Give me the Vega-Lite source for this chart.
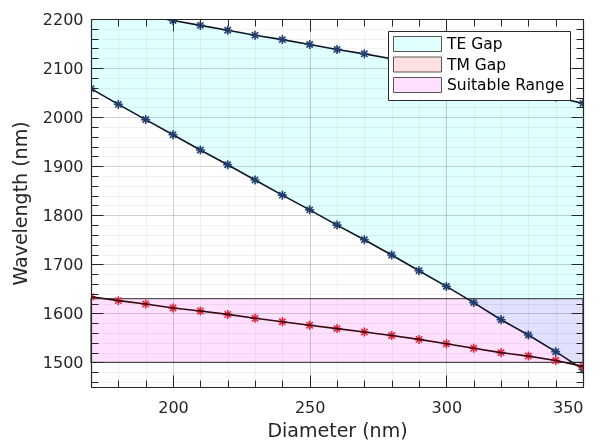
{
  "$schema": "https://vega.github.io/schema/vega-lite/v6.json",
  "width": 492,
  "height": 368,
  "autosize": {"type": "none"},
  "padding": {"left": 91, "top": 19, "right": 17, "bottom": 61},
  "background": "white",
  "config": {"view": {"stroke": null}},
  "data": {"values": [
    {"d": 170, "lo": 2058, "hi": 2227, "tm": 1634},
    {"d": 180, "lo": 2026, "hi": 2217, "tm": 1626},
    {"d": 190, "lo": 1995, "hi": 2207, "tm": 1619},
    {"d": 200, "lo": 1964, "hi": 2197, "tm": 1611},
    {"d": 210, "lo": 1933, "hi": 2187, "tm": 1605},
    {"d": 220, "lo": 1903, "hi": 2177, "tm": 1598},
    {"d": 230, "lo": 1872, "hi": 2167, "tm": 1590},
    {"d": 240, "lo": 1841, "hi": 2158, "tm": 1583},
    {"d": 250, "lo": 1811, "hi": 2148, "tm": 1576},
    {"d": 260, "lo": 1780, "hi": 2138, "tm": 1569},
    {"d": 270, "lo": 1750, "hi": 2129, "tm": 1562},
    {"d": 280, "lo": 1719, "hi": 2119, "tm": 1555},
    {"d": 290, "lo": 1687, "hi": 2106, "tm": 1547},
    {"d": 300, "lo": 1655, "hi": 2093, "tm": 1538},
    {"d": 310, "lo": 1622, "hi": 2080, "tm": 1529},
    {"d": 320, "lo": 1587, "hi": 2067, "tm": 1520},
    {"d": 330, "lo": 1556, "hi": 2054, "tm": 1513},
    {"d": 340, "lo": 1522, "hi": 2041, "tm": 1504},
    {"d": 350, "lo": 1486, "hi": 2028, "tm": 1492}
  ]},
  "resolve": {"axis": {"x": "independent", "y": "independent"}},
  "layer": [
    {
      "mark": {"type": "area", "clip": true, "opacity": 1},
      "encoding": {
        "x": {"field": "d", "type": "quantitative",
          "scale": {"domain": [170, 350], "nice": false, "zero": false},
          "axis": {"orient": "bottom", "values": [200, 250, 300, 350], "format": "d", "grid": true, "gridColor": "#262626", "gridOpacity": 0.16,
            "ticks": false, "domain": true, "domainColor": "#262626", "domainWidth": 1.2,
            "labelFont": "DejaVu Sans", "labelFontSize": 16, "labelColor": "#262626", "labelPadding": 12,
            "title": "Diameter (nm)", "titleFont": "DejaVu Sans", "titleFontSize": 19, "titleFontWeight": "normal", "titleColor": "#262626", "titlePadding": 6, "zindex": 1}},
        "y": {"field": "lo", "type": "quantitative",
          "scale": {"domain": [1450, 2200], "nice": false, "zero": false},
          "axis": {"orient": "left", "values": [1500, 1600, 1700, 1800, 1900, 2000, 2100, 2200], "format": "d", "grid": true, "gridColor": "#262626", "gridOpacity": 0.16,
            "ticks": false, "domain": true, "domainColor": "#262626", "domainWidth": 1.2,
            "labelFont": "DejaVu Sans", "labelFontSize": 16, "labelColor": "#262626", "labelPadding": 8,
            "title": "Wavelength (nm)", "titleFont": "DejaVu Sans", "titleFontSize": 19, "titleFontWeight": "normal", "titleColor": "#262626", "titlePadding": 12, "zindex": 1}},
        "y2": {"field": "hi"},
        "color": {"datum": "TE Gap", "type": "nominal",
          "scale": {"domain": ["TE Gap", "TM Gap", "Suitable Range"], "range": ["#e0ffff", "#ffe0e0", "#ffe0ff"]},
          "legend": {"orient": "none", "legendX": 297, "legendY": 12, "title": null, "zindex": 2,
            "fillColor": "white", "strokeColor": "#262626", "padding": 5, "rowPadding": 0.5,
            "symbolType": "M-1,-1H5.4V1H-1Z", "symbolSize": 225, "symbolStrokeColor": "#262626", "symbolStrokeWidth": 1, "symbolOpacity": 1,
            "labelFont": "DejaVu Sans", "labelFontSize": 15.5, "labelColor": "#000000", "labelOffset": 38, "labelLimit": 300}}
      }
    },
    {
      "data": {"values": [{"x1": 170, "x2": 350, "low": 1500, "high": 1630}]},
      "mark": {"type": "rect", "blend": "multiply", "stroke": "#555555", "strokeWidth": 1.3, "opacity": 1},
      "encoding": {
        "x": {"field": "x1", "type": "quantitative",
          "axis": {"orient": "bottom", "values": [170, 180, 190, 200, 210, 220, 230, 240, 250, 260, 270, 280, 290, 300, 310, 320, 330, 340, 350],
            "grid": true, "gridColor": "#262626", "gridOpacity": 0.06, "ticks": true, "tickSize": -7, "tickColor": "#262626", "tickWidth": 1,
            "labels": false, "domain": false, "title": null, "zindex": 1}},
        "x2": {"field": "x2"},
        "y": {"field": "low", "type": "quantitative",
          "axis": {"orient": "left", "values": [1460, 1480, 1500, 1520, 1540, 1560, 1580, 1600, 1620, 1640, 1660, 1680, 1700, 1720, 1740, 1760, 1780, 1800, 1820, 1840, 1860, 1880, 1900, 1920, 1940, 1960, 1980, 2000, 2020, 2040, 2060, 2080, 2100, 2120, 2140, 2160, 2180, 2200],
            "grid": true, "gridColor": "#262626", "gridOpacity": 0.06, "ticks": true, "tickSize": -7, "tickColor": "#262626", "tickWidth": 1,
            "labels": false, "domain": false, "title": null, "zindex": 1}},
        "y2": {"field": "high"},
        "color": {"datum": "Suitable Range", "type": "nominal"}
      }
    },
    {
      "mark": {"type": "line", "clip": true, "color": "#0d1626", "strokeWidth": 1.6},
      "encoding": {
        "x": {"field": "d", "type": "quantitative",
          "axis": {"orient": "bottom", "values": [200, 250, 300, 350], "grid": false, "ticks": true, "tickSize": -12, "tickColor": "#262626", "tickWidth": 1,
            "labels": false, "domain": false, "title": null, "zindex": 1}},
        "y": {"field": "lo", "type": "quantitative",
          "axis": {"orient": "left", "values": [1500, 1600, 1700, 1800, 1900, 2000, 2100, 2200], "grid": false, "ticks": true, "tickSize": -12, "tickColor": "#262626", "tickWidth": 1,
            "labels": false, "domain": false, "title": null, "zindex": 1}}
      }
    },
    {
      "mark": {"type": "point", "clip": true, "filled": false, "shape": "M0,-1V1M-1,0H1M-0.7,-0.7L0.7,0.7M-0.7,0.7L0.7,-0.7", "size": 81, "stroke": "#22406f", "strokeWidth": 1.6, "opacity": 1},
      "encoding": {
        "x": {"field": "d", "type": "quantitative",
          "axis": {"orient": "top", "values": [200, 250, 300, 350], "grid": false, "ticks": true, "tickSize": -12, "tickColor": "#262626", "tickWidth": 1,
            "labels": false, "domain": true, "domainColor": "#262626", "domainWidth": 1.2, "title": null, "zindex": 1}},
        "y": {"field": "lo", "type": "quantitative",
          "axis": {"orient": "right", "values": [1500, 1600, 1700, 1800, 1900, 2000, 2100, 2200], "grid": false, "ticks": true, "tickSize": -12, "tickColor": "#262626", "tickWidth": 1,
            "labels": false, "domain": true, "domainColor": "#262626", "domainWidth": 1.2, "title": null, "zindex": 1}}
      }
    },
    {
      "mark": {"type": "line", "clip": true, "color": "#0d1626", "strokeWidth": 1.6},
      "encoding": {
        "x": {"field": "d", "type": "quantitative",
          "axis": {"orient": "top", "values": [170, 180, 190, 200, 210, 220, 230, 240, 250, 260, 270, 280, 290, 300, 310, 320, 330, 340, 350],
            "grid": false, "ticks": true, "tickSize": -7, "tickColor": "#262626", "tickWidth": 1,
            "labels": false, "domain": false, "title": null, "zindex": 1}},
        "y": {"field": "hi", "type": "quantitative",
          "axis": {"orient": "right", "values": [1460, 1480, 1500, 1520, 1540, 1560, 1580, 1600, 1620, 1640, 1660, 1680, 1700, 1720, 1740, 1760, 1780, 1800, 1820, 1840, 1860, 1880, 1900, 1920, 1940, 1960, 1980, 2000, 2020, 2040, 2060, 2080, 2100, 2120, 2140, 2160, 2180, 2200],
            "grid": false, "ticks": true, "tickSize": -7, "tickColor": "#262626", "tickWidth": 1,
            "labels": false, "domain": false, "title": null, "zindex": 1}}
      }
    },
    {
      "mark": {"type": "point", "clip": true, "filled": false, "shape": "M0,-1V1M-1,0H1M-0.7,-0.7L0.7,0.7M-0.7,0.7L0.7,-0.7", "size": 81, "stroke": "#22406f", "strokeWidth": 1.6, "opacity": 1},
      "encoding": {
        "x": {"field": "d", "type": "quantitative", "axis": null},
        "y": {"field": "hi", "type": "quantitative", "axis": null}
      }
    },
    {
      "mark": {"type": "point", "clip": true, "filled": false, "shape": "M0,-1V1M-1,0H1M-0.7,-0.7L0.7,0.7M-0.7,0.7L0.7,-0.7", "size": 81, "stroke": "#e8283c", "strokeWidth": 1.6, "opacity": 1},
      "encoding": {
        "x": {"field": "d", "type": "quantitative", "axis": null},
        "y": {"field": "tm", "type": "quantitative", "axis": null}
      }
    },
    {
      "mark": {"type": "line", "clip": true, "color": "#3a0810", "strokeWidth": 1.6},
      "encoding": {
        "x": {"field": "d", "type": "quantitative", "axis": null},
        "y": {"field": "tm", "type": "quantitative", "axis": null}
      }
    }
  ]
}
